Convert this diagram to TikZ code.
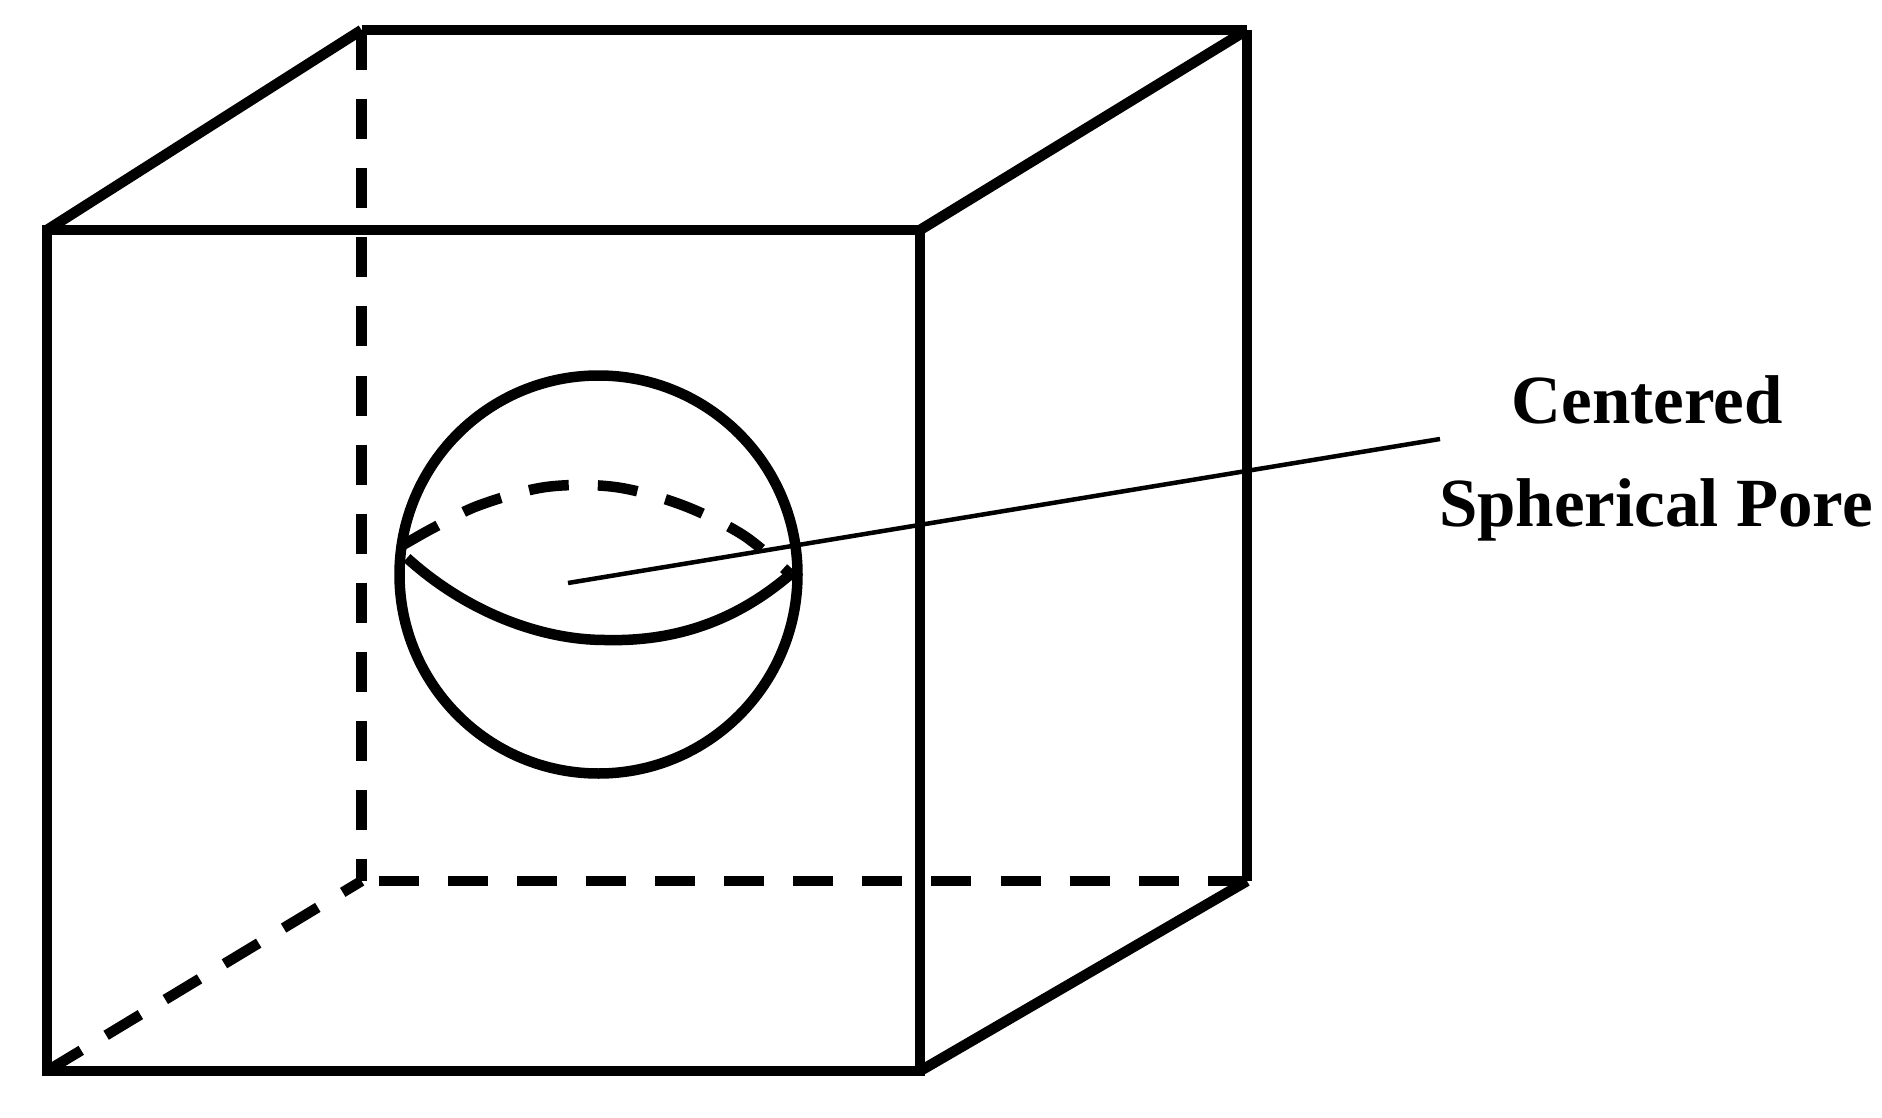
\documentclass[tikz,border=0pt]{standalone}
\usepackage{fontspec}
\setmainfont{Liberation Serif}
\tikzset{
  x=1pt,y=-1pt,
  solidedge/.style={line width=10.5pt,black,line join=miter,line cap=butt},
  hiddenedge/.style={line width=10.5pt,black,line cap=butt,dash pattern=on 40pt off 29.1pt},
  sphereline/.style={line width=10.5pt,black},
  equatorback/.style={line width=10.5pt,black,line cap=butt,dash pattern=on 40pt off 29.1pt},
  leader/.style={line width=4.5pt,black},
  poretext/.style={font=\fontsize{69pt}{80pt}\selectfont\bfseries,anchor=base,inner sep=0pt,outer sep=0pt}
}
\begin{document}
\begin{tikzpicture}
\useasboundingbox (0,0) rectangle (1882,1118);
\fill[white] (0,0) rectangle (1882,1118);
% cube corners
\coordinate (ftl) at (47,230);
\coordinate (ftr) at (920,230);
\coordinate (fbl) at (47,1071);
\coordinate (fbr) at (920,1071);
\coordinate (btl) at (361.5,30);
\coordinate (btr) at (1247,30);
\coordinate (bbl) at (361.5,881);
\coordinate (bbr) at (1247,881);
% hidden edges
\draw[hiddenedge] (btl) -- (bbl);
\draw[hiddenedge] (fbl) -- (bbl);
\draw[hiddenedge,dash phase=52pt] (bbl) -- (bbr);
% visible edges
\draw[solidedge] (ftl) -- (ftr) -- (fbr) -- (fbl) -- cycle;
\draw[solidedge] (ftl) -- (btl);
\draw[solidedge] (btl) -- (btr);
\draw[solidedge] (ftr) -- (btr);
\draw[solidedge] (btr) -- (bbr);
\draw[solidedge] (bbr) -- (fbr);
% sphere
\coordinate (sc) at (598.5,574.5);
\draw[sphereline] (sc) circle[radius=199];
\coordinate (el) at (407,558);
\coordinate (em) at (605,640);
\coordinate (er) at (792,573);
\draw[sphereline] (el) .. controls (470,615) and (545,640) .. (em) .. controls (680,642) and (740,618) .. (er);
\draw[equatorback] plot[smooth,tension=0.55] coordinates {(403,545) (435,527) (480,505) (546,487) (615,487) (682,505) (743,535) (790,574)};
% leader and label
\coordinate (lstart) at (568,583);
\coordinate (lend) at (1440,439);
\draw[leader] (lstart) -- (lend);
\node[poretext] (lab1) at (1647,423) {Centered};
\node[poretext] (lab2) at (1656,526) {Spherical Pore};
\end{tikzpicture}
\end{document}
